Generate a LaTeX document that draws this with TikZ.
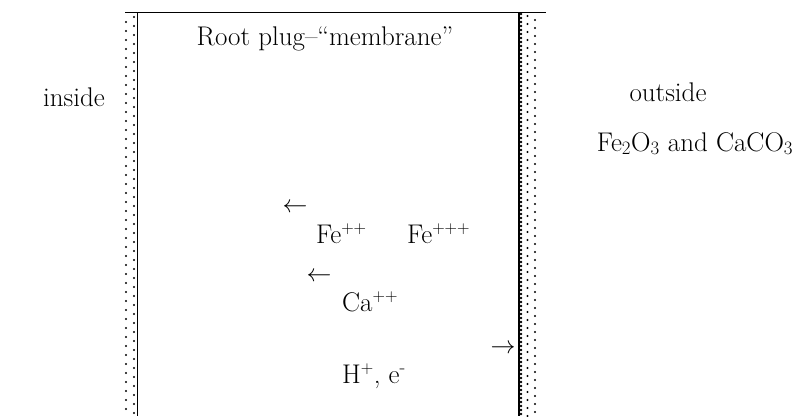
\documentclass[tikz,border=0pt]{standalone}
\usepackage{fontspec}
\begin{document}
\begin{tikzpicture}[x=1pt,y=-1pt,
  lbl/.style={inner sep=0pt,font=\fontsize{27}{32}\selectfont},
  dot/.style={fill=black}]
\useasboundingbox (0,0) rectangle (801,416);
% membrane walls
\coordinate (tl) at (125,12);
\coordinate (tr) at (546,12);
\coordinate (lt) at (137,12);
\coordinate (lb) at (137,416);
\coordinate (rt) at (519,12);
\coordinate (rb) at (519,416);
\draw[line width=1pt] (tl) -- (tr);
\draw[line width=1pt] (lt) -- (lb);
\draw[line width=2.4pt] (rt) -- (rb);
% left dots
\foreach \y in {22,31,...,416} \fill[dot] (126,\y) circle (1.2);
\foreach \y in {17,26,...,416} \fill[dot] (134,\y) circle (1.2);
% right dots
\foreach \y in {14,18,...,416} \fill[dot] (521,\y) circle (1.3);
\foreach \y in {16,24,...,416} \fill[dot] (527.5,\y) circle (1.2);
\foreach \y in {20,28,...,416} \fill[dot] (535,\y) circle (1.2);
% texts
\node[lbl,anchor=base] (title) at (325,45) {Root plug--``membrane''};
\node[lbl,anchor=base] (inside) at (74,106) {inside};
\node[lbl,anchor=base] (outside) at (668,101) {outside};
\node[lbl,anchor=base] (oxides) at (695,151) {Fe\textsubscript{2}O\textsubscript{3} and CaCO\textsubscript{3}};
\node[lbl] (arr1) at (295,208) {$\leftarrow$};
\node[lbl,anchor=base west] (fe2) at (316,243) {Fe$^{++}$};
\node[lbl,anchor=base west] (fe3) at (407,243) {Fe$^{+++}$};
\node[lbl] (arr2) at (319,277) {$\leftarrow$};
\node[lbl,anchor=base west] (ca) at (342,311) {Ca$^{++}$};
\node[lbl] (arr3) at (503,349) {$\rightarrow$};
\node[lbl,anchor=base west] (h) at (342,383) {H$^{+}$, e\textsuperscript{-}};
\end{tikzpicture}
\end{document}
